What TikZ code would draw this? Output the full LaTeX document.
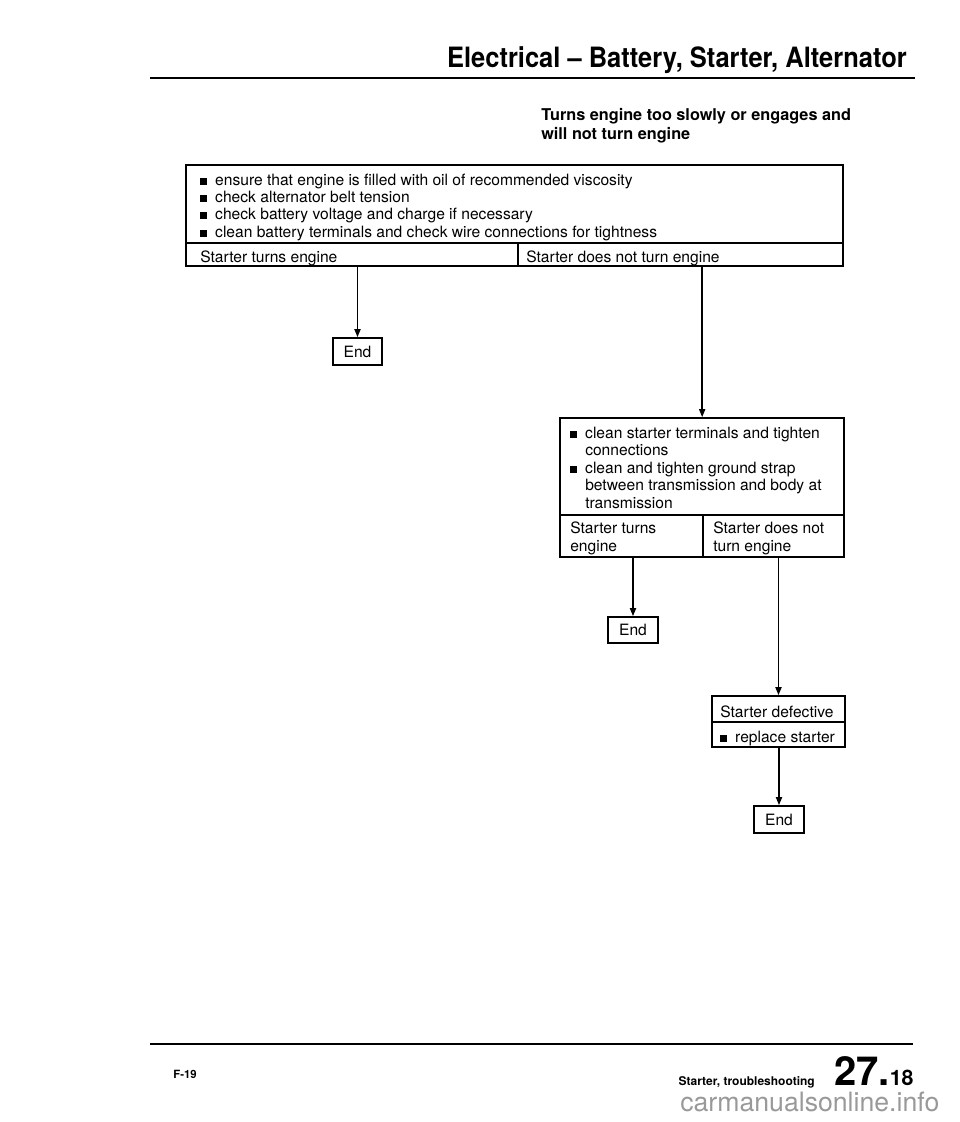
\documentclass[tikz,border=0pt]{standalone}
\usepackage{fontspec}
\setmainfont{TeX Gyre Heros}
\usetikzlibrary{fit,arrows.meta}
\newcommand{\blt}{\rule{5.2pt}{5.2pt}\hspace{6pt}}
\begin{document}
\begin{tikzpicture}[x=0.75pt,y=-0.75pt,
  box/.style={draw, line width=1.25pt, inner sep=0pt},
  txt/.style={anchor=base west, inner sep=0pt, font=\fontsize{11.7}{14}\selectfont},
  endtxt/.style={inner sep=0pt, font=\fontsize{11.7}{14}\selectfont},
  conn/.style={line width=1.25pt, -{Triangle[length=6pt,width=4.5pt]}},
  rulel/.style={line width=2pt},
  ]
\useasboundingbox (0,0) rectangle (960,1122);
% header
\node[anchor=base east, inner sep=0pt] (title) at (907,67)
  {\scalebox{0.91}[1]{\fontsize{21}{24}\selectfont\bfseries Electrical -- Battery, Starter, Alternator}};
\draw[rulel] (150,78) -- (915,78);
\node[txt, font=\fontsize{12.2}{14}\selectfont\bfseries] (sub1) at (541,120) {Turns engine too slowly or engages and};
\node[txt, font=\fontsize{12.2}{14}\selectfont\bfseries] (sub2) at (541,139) {will not turn engine};
% main box
\node[box, fit={(186,165) (843,243)}] (b1) {};
\node[box, fit={(186,243) (518,266)}] (b1l) {};
\node[box, fit={(518,243) (843,266)}] (b1r) {};
\node[txt] (t11) at (200,185) {\blt ensure that engine is filled with oil of recommended viscosity};
\node[txt] (t12) at (200,202) {\blt check alternator belt tension};
\node[txt] (t13) at (200,219) {\blt check battery voltage and charge if necessary};
\node[txt] (t14) at (200,237) {\blt clean battery terminals and check wire connections for tightness};
\node[txt] (t15) at (200,262) {Starter turns engine};
\node[txt] (t16) at (526,262) {Starter does not turn engine};
% end 1
\node[box, fit={(333,338) (382,365)}] (e1) {};
\node[endtxt] (e1t) at (e1.center) {End};
% second box
\node[box, fit={(560,418) (844,515)}] (b2) {};
\node[box, fit={(560,515) (703,557)}] (b2l) {};
\node[box, fit={(703,515) (844,557)}] (b2r) {};
\node[txt] (t21) at (570,438) {\blt clean starter terminals and tighten};
\node[txt] (t22) at (585,455) {connections};
\node[txt] (t23) at (570,473) {\blt clean and tighten ground strap};
\node[txt] (t24) at (585,490) {between transmission and body at};
\node[txt] (t25) at (585,508) {transmission};
\node[txt] (t26) at (570,533) {Starter turns};
\node[txt] (t27) at (570,551) {engine};
\node[txt] (t28) at (713,533) {Starter does not};
\node[txt] (t29) at (713,551) {turn engine};
% end 2
\node[box, fit={(608,617) (658,643)}] (e2) {};
\node[endtxt] (e2t) at (e2.center) {End};
% starter defective
\node[box, fit={(712,696) (845,722)}] (b3) {};
\node[box, fit={(712,722) (845,747)}] (b3b) {};
\node[txt] (t31) at (720,717) {Starter defective};
\node[txt] (t32) at (720,742) {\blt replace starter};
% end 3
\node[box, fit={(754,806) (804,833)}] (e3) {};
\node[endtxt] (e3t) at (e3.center) {End};
% connectors
\draw[conn] (b1l.south -| e1.north) -- (e1.north);
\draw[conn] (b1r.south -| b2r.north west) -- (b2.north -| b2r.north west);
\draw[conn] (b2l.south -| e2.north) -- (e2.north);
\draw[conn] (b2r.south -| b3.north) -- (b3.north);
\draw[conn] (b3b.south -| e3.north) -- (e3.north);
% footer
\draw[line width=1.6pt] (150,1044) -- (913,1044);
\node[anchor=base west, inner sep=0pt, font=\fontsize{8.5}{10}\selectfont\bfseries] (f19) at (173,1078) {F-19};
\node[anchor=base east, inner sep=0pt, font=\fontsize{9}{10}\selectfont\bfseries] (sec) at (815,1085) {Starter, troubleshooting};
\node[anchor=base west, inner sep=0pt] (pg) at (834,1085) {{\fontsize{30}{31}\selectfont\bfseries 27.}{\fontsize{16}{17}\selectfont\bfseries 18}};
\node[anchor=base west, inner sep=0pt, text=black!40, font=\fontsize{20}{22}\selectfont] (wm) at (680,1111) {carmanualsonline.info};
\end{tikzpicture}
\end{document}
